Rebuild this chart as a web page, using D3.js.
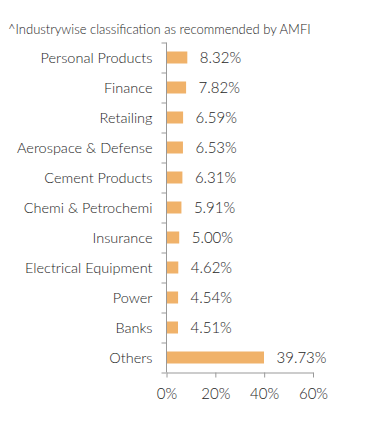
<!DOCTYPE html>
<html lang="en">
<head>
  <meta charset="utf-8">
  <script src="https://cdn.jsdelivr.net/npm/d3@7"></script>
  <style>
    body { margin: 0; background: #fff; }
    text { font-family: Lato, "Open Sans", sans-serif; fill: #1e1e1e; }
  </style>
</head>
<body>
  <div id="chart"></div>
  <script>
    const note = "^Industrywise classification as recommended by AMFI";
    const categories = ["Personal Products", "Finance", "Retailing", "Aerospace & Defense",
      "Cement Products", "Chemi & Petrochemi", "Insurance", "Electrical Equipment",
      "Power", "Banks", "Others"];
    const weights = [8.32, 7.82, 6.59, 6.53, 6.31, 5.91, 5.00, 4.62, 4.54, 4.51, 39.73];
    const xTicks = [0, 20, 40, 60];

    const svgWidth = 391, svgHeight = 427;
    const margin = { top: 42.5, right: 78, bottom: 54.5, left: 166.5 };
    const width = svgWidth - margin.left - margin.right;
    const height = svgHeight - margin.top - margin.bottom;

    const svg = d3.select("#chart").append("svg")
      .attr("width", svgWidth)
      .attr("height", svgHeight);

    svg.append("text")
      .attr("x", 8)
      .attr("y", 33.5)
      .attr("font-size", 13)
      .attr("font-weight", 300)
      .text(note);

    const g = svg.append("g")
      .attr("transform", `translate(${margin.left},${margin.top})`);

    const x = d3.scaleLinear().domain([0, 60]).range([0, width]);
    const y = d3.scaleBand().domain(categories).range([0, height]).paddingInner(0.6).paddingOuter(0.3);

    // bars
    g.selectAll("rect.bar")
      .data(categories)
      .enter()
      .append("rect")
      .attr("class", "bar")
      .attr("x", 0.5)
      .attr("y", d => y(d))
      .attr("width", (d, i) => x(weights[i]))
      .attr("height", y.bandwidth())
      .attr("fill", "#F0B26A");

    // value labels
    g.selectAll("text.val")
      .data(categories)
      .enter()
      .append("text")
      .attr("class", "val")
      .attr("x", (d, i) => x(weights[i]) + 13)
      .attr("y", d => y(d) + y.bandwidth() / 2)
      .attr("dy", "0.36em")
      .attr("font-size", 15)
      .attr("font-weight", 300)
      .text((d, i) => weights[i].toFixed(2) + "%");

    // y axis: category labels, ticks between bands
    const axisColor = "#999";
    g.append("line")
      .attr("x1", 0).attr("x2", 0)
      .attr("y1", 0).attr("y2", height)
      .attr("stroke", axisColor);
    const step = height / categories.length;
    g.selectAll("line.ytick")
      .data(d3.range(categories.length + 1))
      .enter()
      .append("line")
      .attr("class", "ytick")
      .attr("x1", -5).attr("x2", 0)
      .attr("y1", i => Math.round(i * step) + 0.5)
      .attr("y2", i => Math.round(i * step) + 0.5)
      .attr("stroke", axisColor);
    g.selectAll("text.cat")
      .data(categories)
      .enter()
      .append("text")
      .attr("class", "cat")
      .attr("x", -14)
      .attr("y", d => y(d) + y.bandwidth() / 2)
      .attr("dy", "0.36em")
      .attr("text-anchor", "end")
      .attr("font-size", 14.5)
      .attr("font-weight", 300)
      .text(d => d);

    // x axis
    g.append("g")
      .attr("transform", `translate(0,${height})`)
      .call(d3.axisBottom(x).tickValues(xTicks).tickSize(5).tickSizeOuter(0).tickFormat(d => d + "%"))
      .call(a => a.selectAll("line, path").attr("stroke", axisColor))
      .call(a => a.selectAll("text")
        .attr("font-family", "Lato, sans-serif")
        .attr("font-size", 15)
        .attr("font-weight", 300)
        .attr("fill", "#1e1e1e")
        .attr("y", 16));
  </script>
</body>
</html>
